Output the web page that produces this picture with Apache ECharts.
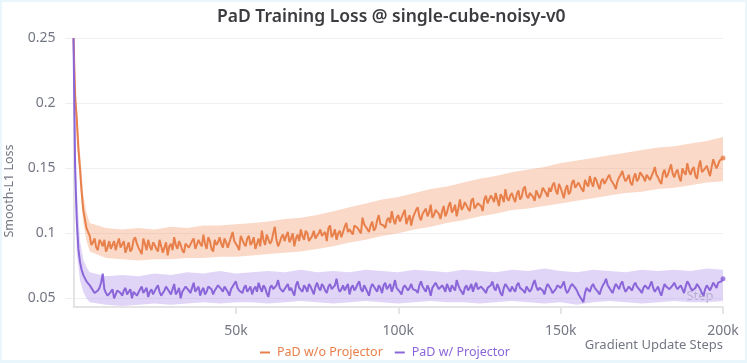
<!DOCTYPE html>
<html><head><meta charset="utf-8">
<script src="https://cdn.jsdelivr.net/npm/echarts@6/dist/echarts.min.js"></script>
<style>
html,body{margin:0;padding:0;background:#e9f6fb;width:747px;height:363px;overflow:hidden;}
#frame{position:absolute;left:2px;top:2px;width:743px;height:358px;background:#fff;}
#chart{position:absolute;left:0;top:0;width:747px;height:363px;}
</style></head><body>
<div id="frame"></div><div id="chart"></div>
<script>
// ---- data ----
// steps of the early part (0 .. 4k), then whole-k steps 5k..200k, plus half-k steps 5.5k..199.5k
const headSteps = [0, 500, 1000, 1500, 2000, 2500, 3000, 4000];

const woHead = [0.250, 0.205, 0.188, 0.165, 0.150, 0.132, 0.118, 0.104];
// values at 5k, 6k, ... 200k
const woWhole = [
  0.098, 0.093, 0.089, 0.095, 0.090, 0.086, 0.094, 0.091, 0.087, 0.096,
  0.090, 0.085, 0.093, 0.088, 0.097, 0.089, 0.084, 0.092, 0.095, 0.087,
  0.091, 0.086, 0.094, 0.089, 0.083, 0.092, 0.097, 0.088, 0.091, 0.085,
  0.093, 0.090, 0.096, 0.087, 0.092, 0.099, 0.088, 0.094, 0.086, 0.091,
  0.097, 0.089, 0.093, 0.088, 0.101, 0.092, 0.087, 0.095, 0.090, 0.098,
  0.093, 0.088, 0.096, 0.102, 0.091, 0.098, 0.094, 0.105, 0.090, 0.097,
  0.094, 0.101, 0.096, 0.090, 0.099, 0.103, 0.095, 0.100, 0.093, 0.102,
  0.096, 0.103, 0.097, 0.094, 0.106, 0.099, 0.095, 0.102, 0.098, 0.108,
  0.103, 0.099, 0.107, 0.102, 0.112, 0.105, 0.101, 0.109, 0.104, 0.114,
  0.108, 0.104, 0.112, 0.117, 0.107, 0.114, 0.109, 0.118, 0.111, 0.106,
  0.115, 0.120, 0.110, 0.117, 0.113, 0.122, 0.114, 0.119, 0.111, 0.121,
  0.116, 0.124, 0.118, 0.113, 0.126, 0.120, 0.123, 0.117, 0.127, 0.121,
  0.124, 0.117, 0.129, 0.122, 0.127, 0.131, 0.121, 0.128, 0.134, 0.125,
  0.131, 0.124, 0.133, 0.128, 0.136, 0.127, 0.132, 0.125, 0.134, 0.130,
  0.136, 0.128, 0.132, 0.139, 0.130, 0.135, 0.127, 0.137, 0.132, 0.141,
  0.135, 0.140, 0.132, 0.138, 0.144, 0.136, 0.141, 0.134, 0.142, 0.137,
  0.145, 0.139, 0.134, 0.143, 0.148, 0.140, 0.145, 0.137, 0.146, 0.142,
  0.148, 0.140, 0.146, 0.142, 0.151, 0.143, 0.138, 0.149, 0.145, 0.153,
  0.143, 0.149, 0.140, 0.147, 0.154, 0.145, 0.151, 0.142, 0.156, 0.148,
  0.152, 0.144, 0.157, 0.150, 0.156, 0.158
];
// values at 5.5k, 6.5k, ... 199.5k
const woHalf = [
  0.091, 0.096, 0.087, 0.093, 0.095, 0.089, 0.088, 0.094, 0.092, 0.089,
  0.094, 0.089, 0.086, 0.095, 0.092, 0.088, 0.096, 0.087, 0.090, 0.093,
  0.088, 0.095, 0.085, 0.093, 0.090, 0.087, 0.091, 0.094, 0.087, 0.092,
  0.089, 0.094, 0.088, 0.095, 0.090, 0.092, 0.097, 0.088, 0.095, 0.093,
  0.092, 0.096, 0.089, 0.097, 0.094, 0.090, 0.098, 0.092, 0.096, 0.091,
  0.097, 0.092, 0.090, 0.095, 0.099, 0.092, 0.100, 0.095, 0.093, 0.099,
  0.098, 0.093, 0.100, 0.096, 0.094, 0.098, 0.102, 0.094, 0.098, 0.096,
  0.100, 0.098, 0.101, 0.104, 0.097, 0.103, 0.100, 0.097, 0.105, 0.101,
  0.101, 0.106, 0.104, 0.100, 0.107, 0.103, 0.106, 0.102, 0.110, 0.107,
  0.106, 0.110, 0.108, 0.111, 0.112, 0.109, 0.115, 0.107, 0.114, 0.112,
  0.118, 0.113, 0.115, 0.119, 0.116, 0.112, 0.118, 0.115, 0.117, 0.113,
  0.121, 0.116, 0.122, 0.119, 0.118, 0.124, 0.119, 0.125, 0.119, 0.123,
  0.121, 0.126, 0.123, 0.129, 0.124, 0.126, 0.130, 0.124, 0.127, 0.129,
  0.127, 0.130, 0.126, 0.134, 0.129, 0.131, 0.128, 0.133, 0.127, 0.135,
  0.131, 0.135, 0.137, 0.133, 0.138, 0.131, 0.134, 0.130, 0.139, 0.135,
  0.139, 0.134, 0.141, 0.136, 0.139, 0.143, 0.137, 0.140, 0.138, 0.143,
  0.141, 0.137, 0.140, 0.145, 0.143, 0.142, 0.139, 0.143, 0.140, 0.147,
  0.143, 0.145, 0.141, 0.147, 0.145, 0.140, 0.146, 0.143, 0.149, 0.146,
  0.147, 0.143, 0.150, 0.145, 0.148, 0.149, 0.144, 0.151, 0.147, 0.150,
  0.148, 0.151, 0.153, 0.149, 0.155
];

const wHead = [0.250, 0.150, 0.110, 0.088, 0.078, 0.072, 0.068, 0.063];
const wWhole = [
  0.060, 0.056, 0.053, 0.058, 0.069, 0.054, 0.051, 0.057, 0.053, 0.055,
  0.052, 0.058, 0.054, 0.050, 0.056, 0.053, 0.059, 0.055, 0.051, 0.057,
  0.054, 0.060, 0.052, 0.056, 0.058, 0.053, 0.061, 0.055, 0.050, 0.057,
  0.059, 0.054, 0.062, 0.056, 0.052, 0.058, 0.055, 0.060, 0.053, 0.057,
  0.061, 0.055, 0.058, 0.052, 0.059, 0.063, 0.056, 0.054, 0.060, 0.057,
  0.053, 0.059, 0.062, 0.055, 0.058, 0.051, 0.060, 0.056, 0.064, 0.057,
  0.054, 0.061, 0.058, 0.052, 0.063, 0.057, 0.060, 0.055, 0.059, 0.053,
  0.062, 0.056, 0.059, 0.054, 0.061, 0.058, 0.065, 0.055, 0.060, 0.057,
  0.053, 0.060, 0.058, 0.063, 0.055, 0.059, 0.052, 0.061, 0.057, 0.060,
  0.054, 0.062, 0.058, 0.055, 0.064, 0.057, 0.053, 0.060, 0.056, 0.061,
  0.058, 0.054, 0.063, 0.057, 0.060, 0.052, 0.059, 0.062, 0.056, 0.058,
  0.061, 0.055, 0.059, 0.064, 0.057, 0.053, 0.060, 0.058, 0.055, 0.062,
  0.057, 0.060, 0.054, 0.059, 0.063, 0.056, 0.058, 0.052, 0.061, 0.057,
  0.059, 0.055, 0.062, 0.058, 0.054, 0.060, 0.057, 0.064, 0.056, 0.059,
  0.053, 0.061, 0.057, 0.055, 0.060, 0.058, 0.063, 0.054, 0.059, 0.062,
  0.056, 0.051, 0.047, 0.058, 0.055, 0.061, 0.057, 0.053, 0.060, 0.065,
  0.058, 0.054, 0.061, 0.057, 0.063, 0.055, 0.059, 0.056, 0.062, 0.058,
  0.054, 0.060, 0.057, 0.063, 0.055, 0.059, 0.052, 0.061, 0.058, 0.056,
  0.062, 0.057, 0.060, 0.054, 0.063, 0.058, 0.055, 0.061, 0.057, 0.052,
  0.060, 0.056, 0.062, 0.058, 0.061, 0.065
];
const wHalf = [
  0.058, 0.054, 0.056, 0.062, 0.057, 0.052, 0.055, 0.050, 0.056, 0.054,
  0.056, 0.053, 0.057, 0.055, 0.052, 0.057, 0.054, 0.058, 0.055, 0.053,
  0.058, 0.055, 0.054, 0.059, 0.055, 0.057, 0.053, 0.058, 0.055, 0.059,
  0.056, 0.058, 0.055, 0.059, 0.056, 0.053, 0.059, 0.057, 0.056, 0.060,
  0.057, 0.059, 0.055, 0.057, 0.060, 0.058, 0.055, 0.058, 0.055, 0.059,
  0.057, 0.055, 0.058, 0.060, 0.054, 0.058, 0.057, 0.060, 0.058, 0.055,
  0.059, 0.056, 0.055, 0.060, 0.058, 0.055, 0.058, 0.061, 0.056, 0.059,
  0.058, 0.061, 0.056, 0.059, 0.057, 0.060, 0.058, 0.057, 0.056, 0.061,
  0.058, 0.056, 0.061, 0.057, 0.060, 0.055, 0.058, 0.059, 0.055, 0.058,
  0.060, 0.057, 0.061, 0.059, 0.058, 0.055, 0.058, 0.061, 0.058, 0.057,
  0.056, 0.060, 0.059, 0.055, 0.057, 0.058, 0.062, 0.057, 0.060, 0.055,
  0.058, 0.060, 0.056, 0.060, 0.055, 0.058, 0.056, 0.061, 0.059, 0.057,
  0.059, 0.056, 0.058, 0.060, 0.058, 0.061, 0.054, 0.058, 0.059, 0.055,
  0.057, 0.060, 0.058, 0.056, 0.059, 0.055, 0.061, 0.059, 0.058, 0.056,
  0.058, 0.059, 0.054, 0.057, 0.061, 0.060, 0.057, 0.056, 0.061, 0.058,
  0.053, 0.049, 0.054, 0.057, 0.059, 0.058, 0.055, 0.057, 0.062, 0.060,
  0.056, 0.058, 0.059, 0.061, 0.058, 0.057, 0.058, 0.060, 0.059, 0.056,
  0.058, 0.059, 0.060, 0.058, 0.057, 0.055, 0.057, 0.059, 0.057, 0.060,
  0.059, 0.058, 0.057, 0.059, 0.061, 0.056, 0.058, 0.059, 0.054, 0.057,
  0.058, 0.059, 0.060, 0.062, 0.063
];

const bandSteps = [0, 1000, 2000, 3000, 4000];
for (let k = 5; k <= 200; k += 5) bandSteps.push(k * 1000);

const woLow = [0.240, 0.175, 0.138, 0.108, 0.094,
  0.086, 0.081, 0.080, 0.079, 0.080, 0.080, 0.081, 0.081, 0.082, 0.082,
  0.083, 0.084, 0.085, 0.086, 0.088, 0.090, 0.093, 0.095, 0.098, 0.100,
  0.103, 0.105, 0.108, 0.110, 0.113, 0.115, 0.118, 0.119, 0.121, 0.123,
  0.125, 0.127, 0.129, 0.131, 0.132, 0.134, 0.135, 0.137, 0.139, 0.140];
const woHigh = [0.250, 0.200, 0.163, 0.130, 0.116,
  0.108, 0.104, 0.103, 0.104, 0.103, 0.105, 0.104, 0.106, 0.106, 0.107,
  0.108, 0.109, 0.111, 0.112, 0.114, 0.117, 0.120, 0.123, 0.126, 0.128,
  0.131, 0.134, 0.136, 0.139, 0.142, 0.144, 0.147, 0.149, 0.151, 0.154,
  0.156, 0.158, 0.160, 0.162, 0.164, 0.166, 0.167, 0.169, 0.171, 0.174];
const wLow = [0.200, 0.085, 0.064, 0.055, 0.050,
  0.047, 0.045, 0.044, 0.045, 0.046, 0.045, 0.046, 0.047, 0.046, 0.047,
  0.047, 0.046, 0.047, 0.048, 0.047, 0.046, 0.047, 0.048, 0.047, 0.046,
  0.047, 0.048, 0.047, 0.047, 0.046, 0.047, 0.048, 0.047, 0.046, 0.047,
  0.045, 0.047, 0.048, 0.047, 0.046, 0.047, 0.048, 0.047, 0.047, 0.048];
const wHigh = [0.250, 0.135, 0.094, 0.080, 0.074,
  0.070, 0.067, 0.068, 0.067, 0.069, 0.068, 0.070, 0.069, 0.071, 0.069,
  0.070, 0.071, 0.070, 0.072, 0.070, 0.071, 0.070, 0.072, 0.071, 0.070,
  0.072, 0.071, 0.070, 0.072, 0.071, 0.070, 0.072, 0.071, 0.073, 0.071,
  0.070, 0.072, 0.071, 0.070, 0.072, 0.071, 0.072, 0.071, 0.073, 0.072];

const xTicks = [50000, 100000, 150000, 200000];
const yTicks = [0.05, 0.1, 0.15, 0.2, 0.25];

const ORANGE = '#e8804b';
const ORANGE_BAND = 'rgba(242,160,120,0.40)';
const PURPLE = '#8b66d9';
const PURPLE_BAND = 'rgba(178,150,236,0.40)';
const GRAY = '#737783';
const FONT = 'Noto Sans';

// merge head, whole-k and half-k samples into [step, value] pairs
function buildSeries(head, whole, half) {
  const out = headSteps.map((s, i) => [s, head[i]]);
  for (let i = 0; i < whole.length; i++) {
    out.push([(5 + i) * 1000, whole[i]]);
    if (i < half.length) out.push([(5.5 + i) * 1000, half[i]]);
  }
  return out;
}
const woData = buildSeries(woHead, woWhole, woHalf);
const wData = buildSeries(wHead, wWhole, wHalf);
const pairs = (xs, ys) => xs.map((x, i) => [x, ys[i]]);

function band(name, lo, hi, color) {
  return {
    name, type: 'custom', silent: true, z: 1, clip: true,
    data: pairs(bandSteps, hi),
    encode: { x: 0, y: 1 },
    renderItem: function (params, api) {
      if (params.dataIndex !== 0) return null;
      const pts = [];
      for (let i = 0; i < bandSteps.length; i++) pts.push(api.coord([bandSteps[i], hi[i]]));
      for (let i = bandSteps.length - 1; i >= 0; i--) pts.push(api.coord([bandSteps[i], lo[i]]));
      return { type: 'polygon', shape: { points: pts }, style: { fill: color } };
    }
  };
}

const chart = echarts.init(document.getElementById('chart'), null, { renderer: 'canvas' });
chart.setOption({
  animation: false,
  backgroundColor: 'transparent',
  textStyle: { fontFamily: FONT },
  title: {
    text: 'PaD Training Loss @ single-cube-noisy-v0',
    left: 212, top: 3,
    textStyle: { fontFamily: FONT, fontSize: 17.5, fontWeight: 600, color: '#3c3c40' }
  },
  legend: {
    data: [
      { name: 'PaD w/o Projector', textStyle: { color: ORANGE } },
      { name: 'PaD w/ Projector', textStyle: { color: PURPLE } }
    ],
    left: 255, top: 341,
    icon: 'rect', itemWidth: 10, itemHeight: 2, itemGap: 12,
    textStyle: { fontFamily: FONT, fontSize: 12.5, padding: [0, 0, 0, 2] }
  },
  grid: { left: 73.5, right: 24, top: 38.3, bottom: 56, containLabel: false },
  xAxis: {
    type: 'value', min: 0, max: 200000, interval: 50000,
    axisLine: { show: true, lineStyle: { color: '#e4e4e6', width: 2 } },
    axisTick: { show: true, length: 7, customValues: xTicks, lineStyle: { color: '#e4e4e6', width: 2 } },
    axisLabel: { customValues: xTicks, margin: 17, fontSize: 14, color: GRAY, fontFamily: FONT,
      formatter: v => (v / 1000) + 'k' },
    splitLine: { show: false }
  },
  yAxis: {
    type: 'value', min: 0.0433, max: 0.25,
    axisLine: { show: true, lineStyle: { color: '#e4e4e6', width: 2 } },
    axisTick: { show: true, length: 8, customValues: yTicks, lineStyle: { color: '#eeeeee', width: 1 } },
    axisLabel: { customValues: yTicks, margin: 18, fontSize: 14, color: GRAY, fontFamily: FONT },
    splitLine: { show: true, lineStyle: { color: '#f0f0f2', width: 1 } }
  },
  graphic: [
    { type: 'text', x: 9, y: 191, rotation: Math.PI / 2,
      style: { text: 'Smooth-L1 Loss', fill: GRAY, font: '12.5px "Noto Sans"', align: 'center', verticalAlign: 'middle' } },
    { type: 'text', x: 723, y: 345,
      style: { text: 'Gradient Update Steps', fill: GRAY, font: '13px "Noto Sans"', align: 'right', verticalAlign: 'middle' } },
    { type: 'text', x: 700, y: 296, z: 0,
      style: { text: 'Step', fill: 'rgba(130,130,140,0.55)', font: '13px "Noto Sans"', align: 'center', verticalAlign: 'middle' } }
  ],
  series: [
    band('woBand', woLow, woHigh, ORANGE_BAND),
    band('wBand', wLow, wHigh, PURPLE_BAND),
    { name: 'PaD w/o Projector', type: 'line', data: woData, symbol: 'none',
      lineStyle: { color: ORANGE, width: 2 }, itemStyle: { color: ORANGE }, z: 3 },
    { name: 'PaD w/ Projector', type: 'line', data: wData, symbol: 'none',
      lineStyle: { color: PURPLE, width: 2 }, itemStyle: { color: PURPLE }, z: 3 },
    { name: 'woEnd', type: 'scatter', symbolSize: 5, itemStyle: { color: ORANGE }, z: 4,
      data: [woData[woData.length - 1]] },
    { name: 'wEnd', type: 'scatter', symbolSize: 5, itemStyle: { color: PURPLE }, z: 4,
      data: [wData[wData.length - 1]] }
  ]
});
</script>
</body></html>
